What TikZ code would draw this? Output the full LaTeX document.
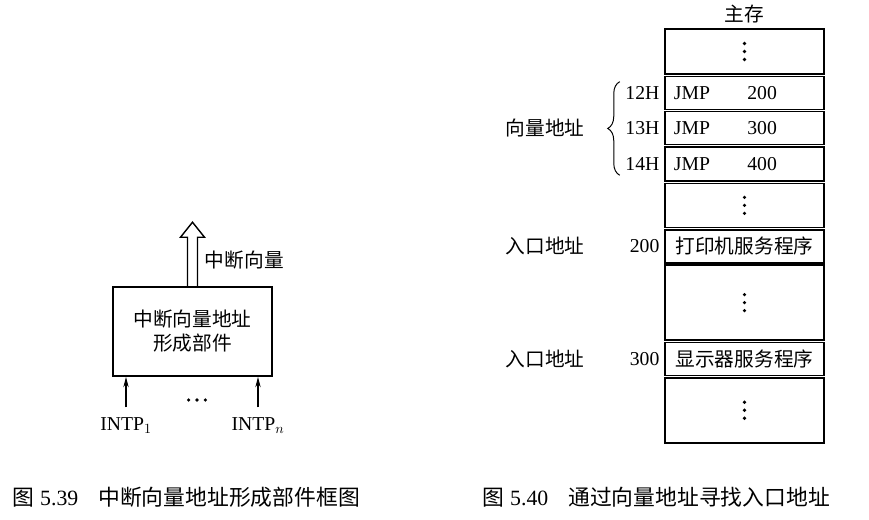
\documentclass[tikz,border=0pt]{standalone}
\usepackage{fontspec}
\setmainfont{Liberation Serif}
\newfontfamily\cjk{Noto Sans CJK SC}
\newcommand{\zh}[1]{{\cjk #1}}
\usetikzlibrary{positioning, arrows.meta, calc, decorations.pathreplacing}

\begin{document}
\begin{tikzpicture}[
    font=\fontsize{14}{17}\selectfont,
    >={Stealth[length=2.6mm,width=1.3mm]},
    cell/.style={
      draw,
      line width=1.1pt,
      minimum width=3.975cm,
      inner sep=0pt
    },
    addr/.style={inner sep=1pt},
    caption/.style={anchor=west, font=\fontsize{15.5}{18}\selectfont}
  ]
  \useasboundingbox (0,0) rectangle (21.725,-12.975);

  % left: interrupt vector address unit
  \node[draw, line width=1.1pt, minimum width=3.975cm, minimum height=2.225cm, align=center] (unit) at (4.8125,-8.2875) {\zh{中断向量地址}\\\zh{形成部件}};
  \draw[line width=1pt] ($(unit.north)+(-0.125,0)$) -- ++(0,1.225) -- ++(-0.175,0)
    -- ($(unit.north)+(0,1.6)$) -- ($(unit.north)+(0.3,1.225)$) -- ++(-0.175,0) -- ++(0,-1.225);
  \node[anchor=west] (vec) at (5.0,-6.5) {\zh{中断向量}};
  \node[anchor=base] (intp1) at (3.15,-10.75) {INTP$_1$};
  \node[anchor=base] (intpn) at (6.45,-10.75) {INTP$_n$};
  \coordinate (dots) at (4.925,-10.0);
  \foreach \d in {-0.21,0,0.21}
    \fill ([xshift=\d cm]dots) circle (0.045);
  \draw[->, line width=0.8pt] ([yshift=0.12cm]intp1.north) -- (intp1.north |- unit.south);
  \draw[->, line width=0.8pt] ([yshift=0.12cm]intpn.north) -- (intpn.north |- unit.south);

  % right: main memory
  \node[cell, minimum height=1.125cm] (m0) at (18.6125,-1.2875) {};
  \node[cell, minimum height=0.825cm, below=0.02cm of m0] (m12) {};
  \node[cell, minimum height=0.825cm, below=0.02cm of m12] (m13) {};
  \node[cell, minimum height=0.85cm, below=0.02cm of m13] (m14) {};
  \node[cell, minimum height=1.1cm, below=0.02cm of m14] (m1) {};
  \node[cell, minimum height=0.825cm, below=0.02cm of m1] (m200) {\zh{打印机服务程序}};
  \node[cell, minimum height=1.875cm, below=0.02cm of m200] (m2) {};
  \node[cell, minimum height=0.825cm, below=0.02cm of m2] (m300) {\zh{显示器服务程序}};
  \node[cell, minimum height=1.625cm, below=0.02cm of m300] (m3) {};
  \node[above=0cm of m0] (mem) {\zh{主存}};

  % vertical dots in the gap cells
  \foreach \c in {m0, m1, m2, m3}
    \foreach \d in {-0.2,0,0.2}
      \fill ([yshift=\d cm]\c.center) circle (0.045);

  \foreach \r/\a in {12/200, 13/300, 14/400} {
    \node[addr, left=0.08cm of m\r] (h\r) {\r H};
    \node[anchor=west] (j\r) at ([xshift=0.12cm]m\r.west) {JMP};
    \node (a\r) at ([xshift=0.44cm]m\r.center) {\a};
  }
  \draw[decorate, decoration={brace, amplitude=0.3cm}, line width=0.7pt]
    ($(h14.west)+(-0.1,-0.28)$) -- ($(h12.west)+(-0.1,0.28)$);
  \node (vaddr) at (13.625,0 |- m13) {\zh{向量地址}};

  \node[addr, left=0.08cm of m200] (e200) {200};
  \node[addr, left=0.08cm of m300] (e300) {300};
  \node (entry1) at (13.625,0 |- m200) {\zh{入口地址}};
  \node (entry2) at (13.625,0 |- m300) {\zh{入口地址}};

  % captions
  \node[caption] (cap1) at (0.2,-12.425) {\zh{图} 5.39\hspace{0.5cm}\zh{中断向量地址形成部件框图}};
  \node[caption] (cap2) at (11.95,-12.425) {\zh{图} 5.40\hspace{0.5cm}\zh{通过向量地址寻找入口地址}};
\end{tikzpicture}
\end{document}
